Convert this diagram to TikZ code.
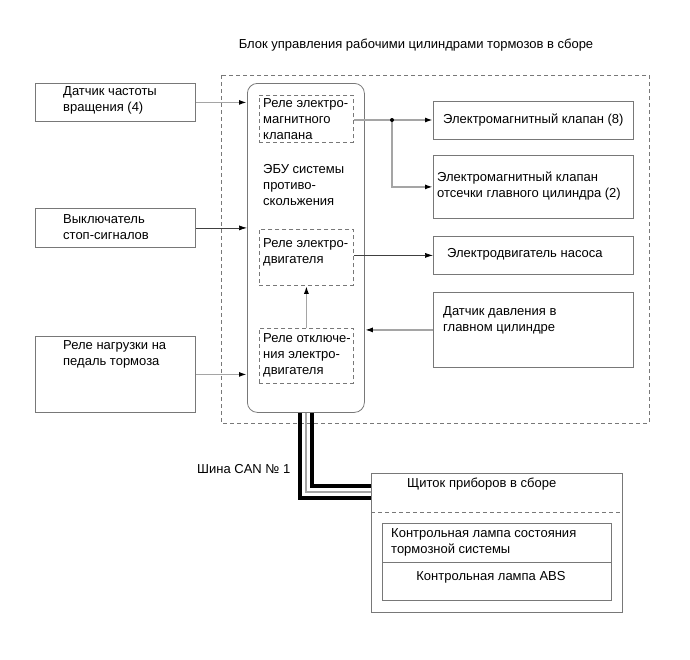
\documentclass[tikz,border=0pt]{standalone}
\usepackage{fontspec}
\setmainfont{Liberation Sans}
\usetikzlibrary{arrows.meta,calc}
\definecolor{framegray}{RGB}{120,120,120}
\definecolor{wiregray}{RGB}{165,165,165}
\tikzset{
  box/.style={draw=framegray, line width=0.8pt, inner sep=0pt, anchor=north west},
  relay/.style={box, dash pattern=on 4pt off 3pt},
  txt/.style={inner sep=0pt, align=left, anchor=west},
  wire/.style={draw=wiregray, line width=1.6pt, -{Latex[length=8pt,width=5pt,black]}},
  thinwire/.style={draw=black!75, line width=0.7pt, -{Latex[length=8pt,width=5pt,black]}},
  canblack/.style={line width=3.5pt, black},
  cangray/.style={line width=1.5pt, wiregray}
}
\begin{document}
\begin{tikzpicture}[x=1pt,y=-1pt,font=\fontsize{13}{16}\selectfont]
\useasboundingbox (0,0) rectangle (690,659);
% outer frame
\draw[framegray, line width=0.6pt, dash pattern=on 4pt off 3pt] (221,75) rectangle (649,423);
\node[anchor=center, inner sep=0pt] (title) at (416,45) {Блок управления рабочими цилиндрами тормозов в сборе};

% inputs
\node[box, minimum width=160pt, minimum height=38pt] (speed) at (35,83) {};
\node[box, minimum width=160pt, minimum height=39pt] (stop) at (35,208) {};
\node[box, minimum width=160pt, minimum height=76pt] (pedal) at (35,336) {};
\node[txt] (speedtxt) at (63,100.5) {Датчик частоты\\вращения (4)};
\node[txt] (stoptxt) at (63,227.5) {Выключатель\\стоп-сигналов};
\node[txt] (pedaltxt) at (63,354) {Реле нагрузки на\\педаль тормоза};

% ECU
\node[box, rounded corners=10pt, minimum width=117pt, minimum height=329pt] (ecu) at (247,83) {};
\node[txt] (ecutxt) at (263,185) {ЭБУ системы\\противо-\\скольжения};
\node[relay, minimum width=94pt, minimum height=47pt] (rvalve) at (259,95) {};
\node[relay, minimum width=94pt, minimum height=56pt] (rmotor) at (259,229) {};
\node[relay, minimum width=94pt, minimum height=55pt] (roff) at (259,328) {};
\node[txt] (rvalvetxt) at (263,119.5) {Реле электро-\\магнитного\\клапана};
\node[txt] (rmotortxt) at (263,252.5) {Реле электро-\\двигателя};
\node[txt] (rofftxt) at (263,355.5) {Реле отключе-\\ния электро-\\двигателя};

% outputs
\node[box, minimum width=200pt, minimum height=38pt] (valve) at (433,101) {};
\node[box, minimum width=200pt, minimum height=63pt] (cutoff) at (433,155) {};
\node[box, minimum width=200pt, minimum height=38pt] (pump) at (433,236) {};
\node[box, minimum width=200pt, minimum height=75pt] (press) at (433,292) {};
\node[txt] (valvetxt) at (443,120) {Электромагнитный клапан (8)};
\node[txt] (cutofftxt) at (437,186.5) {Электромагнитный клапан\\отсечки главного цилиндра (2)};
\node[txt] (pumptxt) at (447,254) {Электродвигатель насоса};
\node[txt] (presstxt) at (443,320) {Датчик давления в\\главном цилиндре};

% connectors
\draw[wire] (speed.east) -- (speed.east -| ecu.west);
\draw[thinwire] (stop.east) -- (stop.east -| ecu.west);
\draw[wire] (pedal.east) -- (pedal.east -| ecu.west);
\coordinate (split) at (392,120);
\draw[wire] (split -| rvalve.east) -- (split -| valve.west);
\draw[wire] (split) |- (cutoff.west);
\fill (split) circle (2pt);
\draw[thinwire] (pump.west -| rmotor.east) -- (pump.west);
\draw[wire] (press.west) -- (press.west -| ecu.east);
\draw[wire] (roff.north) -- (rmotor.south);

% instrument cluster
\node[box, minimum width=251pt, minimum height=139pt] (panel) at (371,473) {};
\draw[framegray, line width=0.6pt, dash pattern=on 4pt off 3pt] (371,512) -- (622,512);
\node[txt] (paneltxt) at (407,484) {Щиток приборов в сборе};
\node[box, minimum width=229pt, minimum height=77pt] (lamps) at (382,523) {};
\draw[framegray, line width=0.8pt] (382,562) -- (611,562);
\node[txt] (brakelamp) at (391,542.5) {Контрольная лампа состояния\\тормозной системы};
\node[anchor=center, inner sep=0pt] (abslamp) at (491,577) {Контрольная лампа ABS};

% CAN bus
\coordinate (canin) at (371,492);
\draw[canblack] ($(ecu.south)+(-6,0)$) |- ($(canin)+(0,6)$);
\draw[cangray] (ecu.south) |- (canin);
\draw[canblack] ($(ecu.south)+(6,0)$) |- ($(canin)+(0,-6)$);
\node[txt] (cantxt) at (197,469) {Шина CAN № 1};
\end{tikzpicture}
\end{document}
